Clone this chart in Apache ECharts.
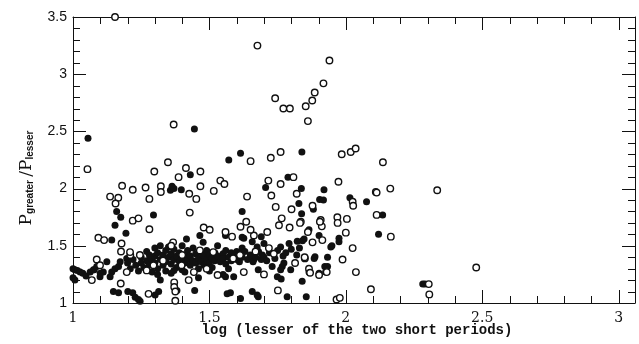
<!DOCTYPE html>
<html><head><meta charset="utf-8">
<script src="https://cdn.jsdelivr.net/npm/echarts@6/dist/echarts.min.js"></script>
<style>html,body{margin:0;padding:0;background:#fff}#c{width:639px;height:344px}</style>
</head><body><div id="c"></div>
<script>
// open circles [log P_lesser, P_greater/P_lesser]
const openPoints = [
[1.154,3.50],[1.676,3.25],[1.94,3.12],[1.918,2.92],[1.886,2.84],[1.877,2.77],[1.853,2.72],[1.861,2.59],[1.741,2.79],[1.771,2.70],[1.795,2.70],[1.369,2.56],
[1.985,2.30],[2.018,2.32],[2.036,2.35],[2.136,2.23],[1.053,2.17],[1.651,2.24],[1.725,2.27],[1.761,2.32],[1.348,2.23],[1.414,2.18],[1.298,2.15],[1.467,2.15],[1.387,2.10],
[1.136,1.93],[1.166,1.92],[1.156,1.87],[1.18,2.025],[1.219,1.99],[1.266,2.01],[1.28,1.91],[1.322,2.02],[1.322,1.97],[1.426,1.955],[1.452,1.91],[1.467,2.02],[1.516,1.98],[1.54,2.07],[1.555,2.04],[1.428,1.79],[1.638,1.93],[1.716,2.07],[1.761,2.04],[1.727,1.94],[1.808,2.10],[1.82,1.955],[1.743,1.84],[1.801,1.82],[1.878,1.85],
[1.219,1.72],[1.24,1.74],[1.28,1.645],[1.093,1.57],[1.114,1.55],[1.178,1.52],[1.176,1.45],
[1.973,2.06],[2.11,1.97],[2.025,1.885],[2.027,1.85],[2.113,1.77],[1.908,1.725],[1.969,1.75],[2.004,1.735],[1.97,1.70],[1.765,1.74],[1.755,1.68],[1.835,1.71],[1.794,1.66],[1.912,1.67],[2.0,1.615],
[2.025,1.48],[1.878,1.53],[1.85,1.39],[1.988,1.38],[1.93,1.27],[1.902,1.245],[2.037,1.27],[2.092,1.12],[1.966,1.03],[1.978,1.045],[2.163,2.0],[2.335,1.985],[2.113,1.965],[2.165,1.58],[2.478,1.31],[2.304,1.165],[2.306,1.075],
[1.614,1.667],[1.635,1.71],[1.832,1.70],[1.861,1.62],[1.905,1.71],[1.914,1.55],[1.751,1.11],[1.626,1.27],[1.53,1.245],[1.70,1.25],[1.814,1.35],[1.849,1.40],[1.865,1.30],[1.869,1.265],
[1.736,1.43],[1.663,1.59],[1.651,1.64],[1.583,1.58],[1.559,1.62],[1.712,1.62],[1.669,1.45],[1.718,1.48],[1.479,1.66],[1.501,1.64],
[1.087,1.38],[1.069,1.20],[1.099,1.33],[1.175,1.17],[1.277,1.08],[1.371,1.18],[1.371,1.14],[1.375,1.10],[1.375,1.02],[1.424,1.20],[1.21,1.42],
[1.367,1.53],[1.36,1.50],[1.209,1.445],[1.245,1.42],[1.197,1.27],[1.295,1.33],[1.33,1.37],[1.40,1.42],[1.443,1.27],[1.49,1.30],[1.514,1.445],[1.587,1.39],[1.612,1.42],[1.27,1.285],[1.398,1.33],[1.465,1.46]
];
// filled circles
const filledPoints = [
[1.445,2.52],[1.055,2.44],[1.571,2.25],[1.614,2.31],[1.839,2.32],[1.43,2.12],[1.357,1.985],[1.363,2.02],[1.397,1.99],[1.37,2.00],
[1.706,2.01],[1.788,2.10],[1.837,2.00],[1.828,1.87],[1.838,1.78],[1.881,1.82],
[1.16,1.80],[1.175,1.75],[1.154,1.68],[1.194,1.61],[1.295,1.77],[1.142,1.55],
[1.92,1.99],[1.904,1.905],[1.918,1.90],[2.015,1.92],[2.076,1.885],[2.135,1.77],[2.12,1.60],
[1.847,1.56],[1.865,1.64],[1.975,1.565],[1.975,1.535],[1.949,1.50],[1.902,1.59],[1.887,1.405],[1.933,1.40],[1.865,1.27],[1.923,1.32],[1.785,1.055],[1.855,1.055],[1.767,1.32],[1.945,1.49],[1.933,1.32],[1.926,1.27],
[2.282,1.165],[2.29,1.165],[1.62,1.80],
[1.614,1.04],[1.679,1.055],[1.657,1.10],[1.675,1.07],[1.577,1.09],[1.565,1.08],[1.559,1.23],[1.589,1.23],[1.679,1.29],[1.761,1.29],[1.749,1.23],[1.763,1.21],[1.773,1.35],[1.798,1.29],[1.884,1.39],[1.902,1.26],[1.84,1.19],[1.69,1.38],[1.663,1.38],[1.761,1.49],[1.792,1.52],[1.822,1.54],[1.841,1.545],[1.70,1.52],[1.675,1.49],[1.657,1.535],[1.626,1.565],[1.559,1.59],[1.62,1.48],[1.60,1.45],[1.694,1.42],[1.62,1.575],[1.69,1.58],[1.73,1.32],
[1.148,1.10],[1.167,1.09],[1.201,1.10],[1.219,1.09],[1.228,1.05],[1.24,1.03],[1.246,1.015],[1.301,1.07],[1.314,1.10],[1.381,1.11],[1.446,1.11],[1.32,1.20],
[1.0,1.30],[1.007,1.29],[1.016,1.285],[1.026,1.27],[1.036,1.26],[1.007,1.20],[1.048,1.236],[1.063,1.27],[1.078,1.29],[1.099,1.23],[1.111,1.27],[1.124,1.36],[1.142,1.27],[1.154,1.30],[1.167,1.32],[1.075,1.29],[1.087,1.32],[1.10,1.26],[1.136,1.23],[1.173,1.36],[1.197,1.39],[1.0,1.22],
[1.20,1.35],[1.21,1.30],[1.22,1.38],[1.23,1.33],[1.24,1.28],[1.25,1.40],[1.25,1.35],[1.26,1.31],[1.27,1.45],[1.27,1.37],[1.28,1.42],[1.28,1.33],[1.29,1.38],[1.29,1.27],[1.30,1.48],[1.30,1.41],[1.30,1.35],
[1.31,1.44],[1.31,1.30],[1.32,1.50],[1.32,1.38],[1.33,1.42],[1.33,1.33],[1.34,1.46],[1.34,1.36],[1.34,1.28],[1.35,1.40],[1.35,1.49],[1.36,1.43],[1.36,1.34],[1.37,1.38],[1.37,1.47],[1.38,1.41],[1.38,1.31],[1.39,1.44],[1.39,1.36],[1.40,1.50],[1.40,1.39],[1.40,1.29],
[1.41,1.42],[1.41,1.35],[1.42,1.46],[1.42,1.38],[1.43,1.33],[1.43,1.41],[1.44,1.37],[1.44,1.48],[1.45,1.43],[1.45,1.35],[1.46,1.39],[1.46,1.30],[1.47,1.44],[1.47,1.36],[1.48,1.41],[1.48,1.33],[1.49,1.38],[1.49,1.46],[1.50,1.42],[1.50,1.35],
[1.51,1.39],[1.51,1.31],[1.52,1.44],[1.52,1.37],[1.53,1.41],[1.53,1.50],[1.54,1.36],[1.55,1.43],[1.55,1.39],[1.56,1.46],[1.56,1.34],[1.57,1.40],[1.58,1.37],[1.58,1.44],[1.59,1.41],[1.60,1.38],[1.61,1.43],[1.61,1.36],[1.62,1.40],[1.63,1.45],[1.64,1.38],[1.65,1.42],[1.66,1.36],[1.67,1.40],[1.68,1.45],[1.70,1.40],[1.71,1.37],[1.72,1.44],[1.74,1.39],[1.75,1.46],[1.77,1.41],[1.78,1.44],[1.80,1.47],[1.82,1.42],[1.83,1.48],
[1.465,1.59],[1.477,1.53],[1.416,1.56],[1.37,1.285],[1.31,1.25],[1.36,1.26],[1.41,1.27],[1.46,1.22],[1.50,1.28],[1.55,1.25],[1.57,1.30]
];
const xRange = [1, 3.06];
const yRange = [1, 3.5];
const xMajorTicks = [1, 1.5, 2, 2.5, 3];
const xMinorTicks = [1.1,1.2,1.3,1.4,1.6,1.7,1.8,1.9,2.1,2.2,2.3,2.4,2.6,2.7,2.8,2.9];
const yMajorTicks = [1, 1.5, 2, 2.5, 3, 3.5];
const yMinorTicks = [1.1,1.2,1.3,1.4,1.6,1.7,1.8,1.9,2.1,2.2,2.3,2.4,2.6,2.7,2.8,2.9,3.1,3.2,3.3,3.4];
const xTitle = 'log (lesser of the two short periods)';

const ink = '#111';
const MAJOR = 13, MINOR = 7;
const px = v => Math.round(v) + 0.5;
function ln(x1,y1,x2,y2){ return {type:'line', shape:{x1:x1,y1:y1,x2:x2,y2:y2}, style:{stroke:ink, lineWidth:1}}; }

function xTickRender(len, withLabel){
  return function(params, api){
    const v = api.value(0);
    const b = api.coord([v, yRange[0]]);
    const t = api.coord([v, yRange[1]]);
    const x = px(b[0]);
    const kids = [ln(x, b[1], x, b[1]-len), ln(x, t[1], x, t[1]+len)];
    if (withLabel) kids.push({type:'text', x:b[0], y:b[1]+8,
      style:{text:String(v), align:'center', verticalAlign:'top', fontSize:14, fontFamily:'DejaVu Serif', fill:ink}});
    return {type:'group', children:kids};
  };
}
function yTickRender(len, withLabel){
  return function(params, api){
    const v = api.value(1);
    const l = api.coord([xRange[0], v]);
    const r = api.coord([xRange[1], v]);
    const y = px(l[1]);
    const kids = [ln(l[0], y, l[0]+len, y), ln(r[0], y, r[0]-len, y)];
    if (withLabel) kids.push({type:'text', x:l[0]-6, y:l[1],
      style:{text:String(v), align:'right', verticalAlign:'middle', fontSize:14, fontFamily:'Liberation Sans', fill:ink}});
    return {type:'group', children:kids};
  };
}
function axisFrame(pos, range){
  return {type:'value', position:pos, min:range[0], max:range[1],
    axisLine:{show:true, onZero:false, lineStyle:{color:ink, width:1}},
    axisTick:{show:false}, minorTick:{show:false}, splitLine:{show:false}, axisLabel:{show:false}};
}

const chart = echarts.init(document.getElementById('c'));
chart.setOption({
  animation:false,
  grid:{left:73, right:4, top:17, bottom:41},
  xAxis:[ axisFrame('bottom', xRange), axisFrame('top', xRange) ],
  yAxis:[ axisFrame('left', yRange), axisFrame('right', yRange) ],
  graphic:[{
    type:'text', x:27, y:178, rotation:Math.PI/2,
    style:{
      text:'{p|P}{s|greater} {p|/P}{s|lesser}',
      align:'center', verticalAlign:'middle', fill:ink,
      rich:{
        p:{fontFamily:'DejaVu Serif', fontSize:17, fill:ink, verticalAlign:'bottom'},
        s:{fontFamily:'Liberation Sans', fontSize:10, fontWeight:'bold', fill:ink, verticalAlign:'bottom'}
      }
    }
  },{
    type:'text', x:357, y:330,
    style:{text:xTitle, align:'center', verticalAlign:'middle', fill:ink,
      fontSize:14, fontWeight:'bold', fontFamily:'Liberation Mono'}
  }],
  series:[
    {type:'custom', clip:false, silent:true, data:xMajorTicks.map(v=>[v, yRange[0]]), renderItem:xTickRender(MAJOR, true)},
    {type:'custom', clip:false, silent:true, data:xMinorTicks.map(v=>[v, yRange[0]]), renderItem:xTickRender(MINOR, false)},
    {type:'custom', clip:false, silent:true, data:yMajorTicks.map(v=>[xRange[0], v]), renderItem:yTickRender(MAJOR, true)},
    {type:'custom', clip:false, silent:true, data:yMinorTicks.map(v=>[xRange[0], v]), renderItem:yTickRender(MINOR, false)},
    {type:'scatter', name:'filled', data:filledPoints, symbol:'circle', symbolSize:7,
     itemStyle:{color:ink, opacity:1}},
    {type:'scatter', name:'open', data:openPoints, symbol:'circle', symbolSize:6.5,
     itemStyle:{color:'#fff', borderColor:ink, borderWidth:1.4, opacity:1}},
    {type:'scatter', data:[], xAxisIndex:1, yAxisIndex:1}
  ]
});
</script></body></html>
